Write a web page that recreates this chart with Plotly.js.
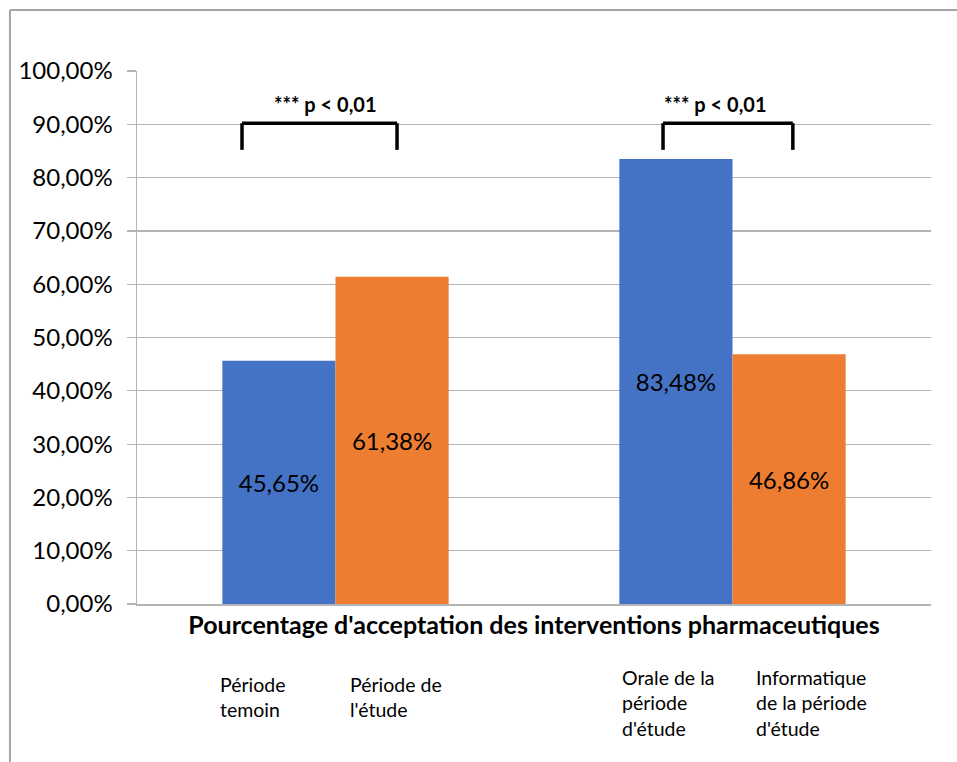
<!DOCTYPE html>
<html>
<head>
<meta charset="utf-8">
<script src="https://cdn.plot.ly/plotly-3.0.1.min.js"></script>
<style>html,body{margin:0;padding:0;background:#fff;}</style>
</head>
<body>
<div id="chart" style="width:957px;height:762px;"></div>
<script>
// ---- data ----
const groups = ['Groupe 1', 'Groupe 2'];
const seriesA = [45.65, 83.48];   // blue
const seriesB = [61.38, 46.86];   // orange
const labelsA = ['Période<br>temoin', 'Orale de la<br>période<br>d\'étude'];
const labelsB = ['Période de<br>l\'étude', 'Informatique<br>de la période<br>d\'étude'];
const yTickVals = [0, 10, 20, 30, 40, 50, 60, 70, 80, 90, 100];
const yTickText = ['0,00%', '10,00%', '20,00%', '30,00%', '40,00%', '50,00%', '60,00%', '70,00%', '80,00%', '90,00%', '100,00%'];
const sigText = ['*** p &lt; 0,01', '*** p &lt; 0,01'];
const axisTitle = 'Pourcentage d\'acceptation des interventions pharmaceutiques';

// ---- styling ----
const FONT = 'Lato, "Open Sans", sans-serif';
const fmt = v => v.toFixed(2).replace('.', ',') + '%';
const grid = '#b4b4b4';

const traces = [
  {type: 'bar', x: groups, y: seriesA, name: 'A', marker: {color: '#4472C4'},
   text: seriesA.map(fmt), textposition: 'inside', insidetextanchor: 'middle',
   textangle: 0, constraintext: 'none', textfont: {color: '#000', size: 24, family: FONT},
   hoverinfo: 'skip'},
  {type: 'bar', x: groups, y: seriesB, name: 'B', marker: {color: '#ED7D31'},
   text: seriesB.map(fmt), textposition: 'inside', insidetextanchor: 'middle',
   textangle: 0, constraintext: 'none', textfont: {color: '#000', size: 24, family: FONT},
   hoverinfo: 'skip'}
];

// bracket geometry (category units relative to group index)
const bracketL = [-0.2355, -0.175];
const bracketR = [0.155, 0.152];
const bracketTop = 90.2, bracketBot = 85.2;
const sigX = [-0.024, -0.042];
const labelOffA = [-0.296, -0.283];
const labelOffB = [0.031, 0.054];
const labelTop = [-0.125, -0.112];

const shapes = [];
const annotations = [];
groups.forEach((g, i) => {
  const l = i + bracketL[i], r = i + bracketR[i];
  const ln = {color: '#000', width: 3.5};
  shapes.push({type: 'line', xref: 'x', yref: 'y', x0: l, x1: r, y0: bracketTop, y1: bracketTop, line: ln});
  shapes.push({type: 'line', xref: 'x', yref: 'y', x0: l, x1: l, y0: bracketTop, y1: bracketBot, line: ln});
  shapes.push({type: 'line', xref: 'x', yref: 'y', x0: r, x1: r, y0: bracketTop, y1: bracketBot, line: ln});
  annotations.push({xref: 'x', yref: 'y', x: i + sigX[i], y: 93.8, text: '<b>' + sigText[i] + '</b>',
    showarrow: false, font: {size: 20, color: '#000', family: FONT}});
  annotations.push({xref: 'x', yref: 'paper', x: i + labelOffA[i], y: labelTop[i], xanchor: 'left', yanchor: 'top',
    align: 'left', text: labelsA[i], showarrow: false, font: {size: 19.5, color: '#000', family: FONT}});
  annotations.push({xref: 'x', yref: 'paper', x: i + labelOffB[i], y: labelTop[i], xanchor: 'left', yanchor: 'top',
    align: 'left', text: labelsB[i], showarrow: false, font: {size: 19.5, color: '#000', family: FONT}});
});

// outer frame (left + top)
shapes.push({type: 'line', xref: 'paper', yref: 'paper', x0: -0.16, x1: -0.16, y0: -0.3, y1: 1.1144, line: {color: '#a6a6a6', width: 2}});
shapes.push({type: 'line', xref: 'paper', yref: 'paper', x0: -0.16, x1: 1.04, y0: 1.1144, y1: 1.1144, line: {color: '#a6a6a6', width: 2}});

const layout = {
  width: 957, height: 762,
  margin: {l: 137, r: 26, t: 71, b: 158},
  paper_bgcolor: '#fff', plot_bgcolor: '#fff',
  font: {family: FONT, color: '#000'},
  showlegend: false,
  barmode: 'group', bargap: 0.43, bargroupgap: 0,
  xaxis: {type: 'category', showticklabels: false, ticks: '', showgrid: false,
    showline: true, linecolor: grid, linewidth: 1.5, zeroline: false,
    title: {text: '<b>' + axisTitle + '</b>', font: {size: 25, color: '#000', family: FONT}, standoff: 12}},
  yaxis: {range: [0, 100], tickvals: yTickVals, ticktext: yTickText, showgrid: true, gridcolor: grid, gridwidth: 1.2,
    showline: true, linecolor: grid, linewidth: 1.5, ticks: 'outside', ticklen: 9, tickcolor: grid, tickwidth: 1.2,
    zeroline: false, tickfont: {size: 24, color: '#000', family: FONT}, ticklabelstandoff: 9},
  shapes: shapes,
  annotations: annotations
};

Plotly.newPlot('chart', traces, layout, {displayModeBar: false, staticPlot: true});
</script>
</body>
</html>
